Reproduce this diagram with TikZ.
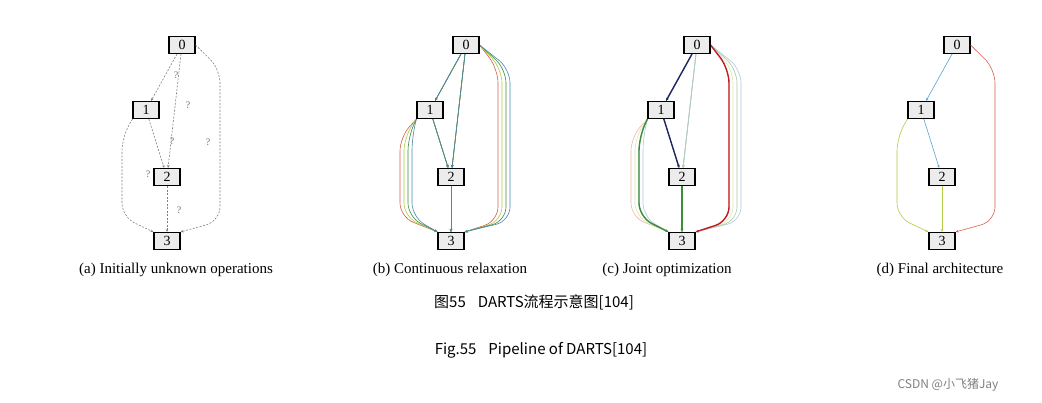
\documentclass[tikz,border=0pt]{standalone}
\usepackage{fontspec}
\newfontfamily\tms{Liberation Serif}
\newfontfamily\cjk{Noto Sans CJK SC}
\usetikzlibrary{arrows.meta}
\definecolor{cR}{RGB}{215,95,75}
\definecolor{cY}{RGB}{175,205,70}
\definecolor{cG}{RGB}{60,140,60}
\definecolor{cB}{RGB}{75,135,180}
\definecolor{cLB}{RGB}{90,165,210}
\definecolor{cN}{RGB}{30,40,100}
\definecolor{cDR}{RGB}{190,30,30}
\tikzset{
  box/.style={draw,line width=1.1pt,fill=gray!15,minimum width=26pt,minimum height=17pt,inner sep=0pt,font=\tms\fontsize{14}{14}\selectfont},
  arr/.style={-{Stealth[length=3pt,width=2.5pt]},line width=0.6pt},
  qd/.style={arr,gray,dashed,dash pattern=on 2pt off 1.5pt},
  qm/.style={font=\tms\fontsize{10}{10}\selectfont,text=gray!90!black,inner sep=0pt},
  captxt/.style={font=\tms\fontsize{15}{15}\selectfont},
}
\newcommand\nodesset{%
  \node[box] (n0) at (0,0) {0};
  \node[box] (n1) at (-36,65) {1};
  \node[box] (n2) at (-15,132) {2};
  \node[box] (n3) at (-15,196) {3};}
\def\Ezo{(n0) -- (n1)}
\def\Ezt{(n0) -- (n2)}
\def\Eot{(n1) -- (n2)}
\def\Ett{(n2) -- (n3)}
\def\Ezh{[rounded corners=14pt] (n0.east) -- (38,24) -- (38,176) -- (n3.north east)}
\def\Eoh{[rounded corners=14pt] (n1.south west) -- (-60,92) -- (-60,172) -- (n3.north west)}
\newcommand\bundle[2]{\foreach \c/\o in {#2}{\draw[arr,\c,xshift=\o pt] #1;}}
\begin{document}
\begin{tikzpicture}[x=1pt,y=-1pt]
\useasboundingbox (0,0) rectangle (1042,403);
\fill[white] (0,0) rectangle (1042,403);
% (a)
\begin{scope}[shift={(182,45)},name prefix=a-]
\nodesset
\draw[qd] \Ezo; \draw[qd] \Ezt; \draw[qd] \Eot; \draw[qd] \Ett; \draw[qd] \Ezh; \draw[qd] \Eoh;
\node[qm] (q1) at (-6,30) {?};
\node[qm] (q2) at (6,60) {?};
\node[qm] (q3) at (26,97) {?};
\node[qm] (q4) at (-10,96) {?};
\node[qm] (q5) at (-34,129) {?};
\node[qm] (q6) at (-3,165) {?};
\end{scope}
\node[captxt] (ca) at (176,270) {(a) Initially unknown operations};
% (b)
\begin{scope}[shift={(466,45)},name prefix=b-]
\nodesset
\bundle{\Ezo}{cR/-4.5,cY/-1.5,cG/1.5,cB/4.5}
\bundle{\Ezt}{cR/-4.5,cY/-1.5,cG/1.5,cB/4.5}
\bundle{\Eot}{cR/-4.5,cY/-1.5,cG/1.5,cB/4.5}
\bundle{\Ett}{cR/-4.5,cY/-1.5,cG/1.5,cB/4.5}
\bundle{\Ezh}{cR/-6,cY/-2,cG/2,cB/6}
\bundle{\Eoh}{cR/-6,cY/-2,cG/2,cB/6}
\nodesset
\end{scope}
\node[captxt] (cb) at (450,270) {(b) Continuous relaxation};
% (c)
\begin{scope}[shift={(697,45)},name prefix=c-]
\nodesset
\bundle{\Ezo}{cR!45/-4.5,cY!45/-1.5,cG!45/1.5,cB!45/4.5}
\bundle{\Ezt}{cR!45/-4.5,cY!45/-1.5,cG!45/1.5,cB!45/4.5}
\bundle{\Eot}{cR!45/-4.5,cY!45/-1.5,cG!45/1.5,cB!45/4.5}
\bundle{\Ett}{cR!45/-4.5,cY!45/-1.5,cG!45/1.5,cB!45/4.5}
\bundle{\Ezh}{cR!45/-6,cY!45/-2,cG!45/2,cB!45/6}
\bundle{\Eoh}{cR!45/-6,cY!45/-2,cG!45/2,cB!45/6}
\draw[arr,cN,line width=1.4pt,xshift=3pt] \Ezo;
\draw[arr,cN,line width=1.4pt,xshift=1.5pt] \Eot;
\draw[arr,cG,line width=1.4pt,xshift=0pt] \Ett;
\draw[arr,cDR,line width=1.4pt,xshift=-6pt] \Ezh;
\draw[arr,cG,line width=1.4pt,xshift=2pt] \Eoh;
\nodesset
\end{scope}
\node[captxt] (cc) at (667,270) {(c) Joint optimization};
% (d)
\begin{scope}[shift={(957,45)},name prefix=d-]
\nodesset
\draw[arr,cLB] \Ezo; \draw[arr,cLB] \Eot; \draw[arr,cY] \Ett;
\draw[arr,cR] \Ezh; \draw[arr,cY] \Eoh;
\end{scope}
\node[captxt] (cd) at (940,270) {(d) Final architecture};
\node[font=\cjk\fontsize{15}{15}\selectfont] (t1) at (534,302) {图55\hspace{0.8em}DARTS流程示意图[104]};
\node[font=\cjk\fontsize{15}{15}\selectfont] (t2) at (541,350) {Fig.55\hspace{0.8em}Pipeline of DARTS[104]};
\node[font=\cjk\fontsize{12}{12}\selectfont,text=gray] (wm) at (948,385) {CSDN @小飞猪Jay};
\end{tikzpicture}
\end{document}
